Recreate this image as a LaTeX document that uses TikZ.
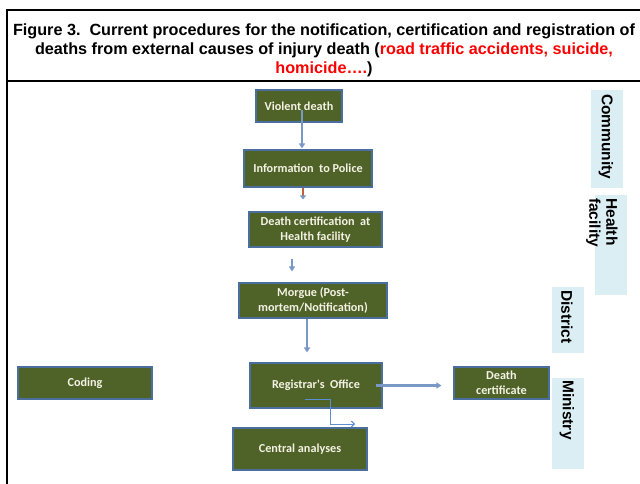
\documentclass[tikz,border=0pt]{standalone}
\usepackage{fontspec}
\setmainfont{Liberation Sans}
\newfontfamily\titlefont{Liberation Sans}
\newfontfamily\boxfont{Carlito}
\usetikzlibrary{arrows.meta,calc}
\definecolor{boxgreen}{HTML}{4F6228}
\definecolor{boxedge}{HTML}{4A6E9E}
\definecolor{boxtext}{HTML}{F4F2E4}
\definecolor{flowblue}{HTML}{7A98C6}
\definecolor{thinblue}{HTML}{5B8ED2}
\definecolor{flowred}{HTML}{C0603A}
\definecolor{bandfill}{HTML}{DBEEF4}
\definecolor{titlered}{HTML}{FF0000}
\begin{document}
\begin{tikzpicture}[x=1pt,y=-1pt,
  stepbox/.style={draw=boxedge, fill=boxgreen, line width=1.1pt, text=boxtext,
    font=\boxfont\bfseries\fontsize{12.2}{14.5}\selectfont, align=center, inner sep=0pt},
  flow/.style={draw=flowblue, line width=2pt, -{Triangle[length=5pt,width=6pt]}},
  thinflow/.style={draw=thinblue, line width=1pt, -{Straight Barb[length=3pt,width=6pt]}},
  band/.style={fill=bandfill, draw=none, anchor=north west, inner sep=0pt},
  bandtext/.style={rotate=-90, anchor=west, inner sep=0pt,
    font=\bfseries\fontsize{15.5}{17}\selectfont, align=left},
  frame/.style={draw=black, line width=2pt}
]
\useasboundingbox (0,0) rectangle (640,484);
\fill[white] (0,0) rectangle (640,484);

% frame
\draw[frame] (7,484) -- (7,10) -- (640,10);
\draw[frame] (7,81) -- (640,81);

% title
\node[font=\titlefont\bfseries\fontsize{16.2}{19}\selectfont, align=center, inner sep=0pt] (title) at (324,50)
  {Figure 3.\ \ Current procedures for the notification,\ certification and registration of\\
   deaths from external causes of injury\ death (\textcolor{titlered}{road traffic accidents, suicide,}\\
   \textcolor{titlered}{homicide\dots.})};

% side bands
\node[band, minimum width=32pt, minimum height=98pt] (bcomm) at (591,90) {};
\node[band, minimum width=32pt, minimum height=100pt] (bhealth) at (595,195) {};
\node[band, minimum width=32pt, minimum height=66pt] (bdist) at (552,287) {};
\node[band, minimum width=32pt, minimum height=91pt] (bmin) at (552,378) {};
\node[bandtext] (tcomm) at (606,94) {Community};
\node[bandtext] (thealth) at (602,198) {Health\\facility};
\node[bandtext] (tdist) at (567,290) {District};
\node[bandtext] (tmin) at (567,380) {Ministry};

% boxes
\node[stepbox, minimum width=86pt, minimum height=32pt] (vd) at (299,106) {Violent death};
\node[stepbox, minimum width=128pt, minimum height=37pt] (info) at (308,168.5) {Information\ \ to\ Police};
\node[stepbox, minimum width=133pt, minimum height=35pt] (dc) at (315.5,229.5) {Death certification\ \ at\\Health facility};
\node[stepbox, minimum width=148pt, minimum height=35pt] (morgue) at (313,300.5) {Morgue (Post-\\mortem/Notification)};
\node[stepbox, minimum width=132pt, minimum height=45pt] (reg) at (316,385.5) {Registrar's\ \ Office};
\node[stepbox, minimum width=95pt, minimum height=32pt] (cert) at (501.5,383) {Death\\certificate};
\node[stepbox, minimum width=134pt, minimum height=42pt] (central) at (300,449) {Central analyses};
\node[stepbox, minimum width=134pt, minimum height=32pt] (coding) at (85,383) {Coding};

% connector end points
\coordinate (a1s) at ($(vd.center)+(3,4)$);
\coordinate (a1e) at (a1s |- info.north);
\coordinate (a2s) at ($(info.south)+(-5,0)$);
\coordinate (a2e) at (a2s |- dc.north);
\coordinate (a3s) at ($(dc.south)+(-23.5,0)$);
\coordinate (a3e) at (a3s |- morgue.north);
\coordinate (a4s) at ($(morgue.south)+(-6,0)$);
\coordinate (a4e) at (a4s |- reg.north);
\coordinate (a5s) at ($(reg.east)+(-7,0)$);
\coordinate (a5e) at (cert.west |- a5s);
\coordinate (a6s) at ($(reg.center)+(-11,13.5)$);

% connectors
\draw[flow, shorten >=1pt] (a1s) -- (a1e);
\draw[draw=flowred, line width=2pt, -{Triangle[length=4pt,width=6pt,color=flowblue]}, shorten >=12pt]
  (a2s) -- (a2e);
\draw[flow, line width=1.6pt, shorten <=11pt, shorten >=11pt] (a3s) -- (a3e);
\draw[flow, line width=2.6pt, shorten >=10pt] (a4s) -- (a4e);
\draw[flow, line width=2.6pt, shorten >=12pt] (a5s) -- (a5e);
\draw[thinflow] (a6s) -- ++(25,0) -- ++(0,25) -- ++(25,0);
\end{tikzpicture}
\end{document}
